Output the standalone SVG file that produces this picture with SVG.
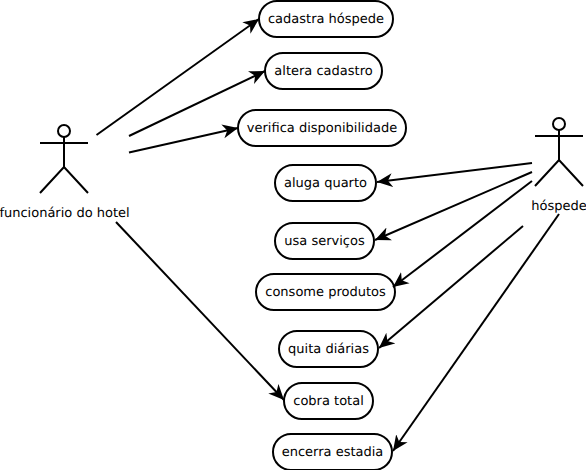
<svg xmlns="http://www.w3.org/2000/svg" width="586" height="470" viewBox="0 0 586 470">
<style>
text{font-family:"DejaVu Sans",sans-serif;font-size:13px;fill:#000;text-anchor:middle;text-rendering:geometricPrecision}
.u{fill:#fff;stroke:#000;stroke-width:2}
.a{fill:none;stroke:#000;stroke-width:2}
.c line{stroke:#000;stroke-width:2;marker-end:url(#h)}
</style>
<defs>
<marker id="h" markerUnits="userSpaceOnUse" markerWidth="18" markerHeight="16" refX="15.500" refY="8" orient="auto"><path d="M0 1L15.500 8L0 15L4.500 8Z" fill="#000"/></marker>
</defs>
<rect width="586" height="470" fill="#fff"/>
<g id="actor-funcionario"><circle class="a" cx="64" cy="131" r="6"/><path class="a" d="M64 137V167M40 143H88M40 193L64 167L88 193"/><text x="64.500" y="217">funcionário do hotel</text></g>
<g id="actor-hospede"><circle class="a" cx="559" cy="124" r="6"/><path class="a" d="M559 130V160M535 136H583M535 186L559 160L583 186"/><text x="559" y="210">hóspede</text></g>
<g id="uc1"><rect class="u" x="259" y="1" width="134" height="36" rx="18"/><text x="326" y="23">cadastra hóspede</text></g>
<g id="uc2"><rect class="u" x="265" y="53" width="117" height="36" rx="18"/><text x="323.500" y="75">altera cadastro</text></g>
<g id="uc3"><rect class="u" x="238" y="110" width="168" height="36" rx="18"/><text x="322" y="132">verifica disponibilidade</text></g>
<g id="uc4"><rect class="u" x="275" y="165" width="101" height="36" rx="18"/><text x="325.500" y="187">aluga quarto</text></g>
<g id="uc5"><rect class="u" x="275" y="223" width="99" height="36" rx="18"/><text x="324.500" y="245">usa serviços</text></g>
<g id="uc6"><rect class="u" x="256" y="274" width="139" height="36" rx="18"/><text x="325.500" y="296">consome produtos</text></g>
<g id="uc7"><rect class="u" x="279" y="331" width="99" height="36" rx="18"/><text x="328.500" y="353">quita diárias</text></g>
<g id="uc8"><rect class="u" x="284" y="383" width="89" height="36" rx="18"/><text x="328.500" y="405">cobra total</text></g>
<g id="uc9"><rect class="u" x="273" y="434" width="119" height="36" rx="18"/><text x="332.500" y="456">encerra estadia</text></g>
<g class="c" id="connectors">
<line x1="96.500" y1="135" x2="259" y2="19"/>
<line x1="129" y1="136" x2="265" y2="71"/>
<line x1="129" y1="152.500" x2="238" y2="128"/>
<line x1="532" y1="163" x2="377" y2="182"/>
<line x1="532" y1="172" x2="375" y2="240"/>
<line x1="532" y1="181" x2="393" y2="287"/>
<line x1="523" y1="226" x2="379" y2="348"/>
<line x1="116" y1="222" x2="284" y2="400"/>
<line x1="559" y1="214" x2="393" y2="451"/>
</g>
</svg>
